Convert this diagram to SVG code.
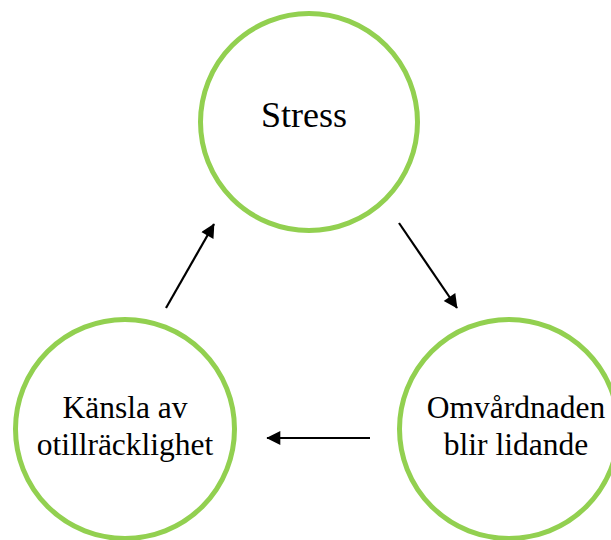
<svg xmlns="http://www.w3.org/2000/svg" width="611" height="540" viewBox="0 0 611 540">
<defs>
<style>
.node{fill:#fff;stroke:#92D050;stroke-width:5}
.lbl{font-family:"Liberation Serif","Times New Roman",serif;fill:#000;text-anchor:middle}
.conn{stroke:#000;stroke-width:2.2;fill:none}
</style>
<marker id="ah" viewBox="0 0 10 10" refX="9.5" refY="5" markerWidth="17" markerHeight="14" markerUnits="userSpaceOnUse" orient="auto">
<path d="M0,0 L10,5 L0,10 z" fill="#000"/>
</marker>
</defs>
<rect width="611" height="540" fill="#fff"/>
<g id="stress">
<circle class="node" cx="309" cy="122" r="108.5"/>
<text class="lbl" x="304" y="127" font-size="36">Stress</text>
</g>
<g id="omvardnaden">
<circle class="node" cx="509" cy="429" r="109.5"/>
<text class="lbl" x="516" y="418" font-size="31.5">Omvårdnaden</text>
<text class="lbl" x="516" y="455" font-size="31.5">blir lidande</text>
</g>
<g id="kansla">
<circle class="node" cx="125" cy="429" r="109.5"/>
<text class="lbl" x="125" y="418" font-size="31.5">Känsla av</text>
<text class="lbl" x="125" y="455" font-size="31.5">otillräcklighet</text>
</g>
<g id="connectors">
<line class="conn" x1="399" y1="223" x2="457" y2="308" marker-end="url(#ah)"/>
<line class="conn" x1="370" y1="438" x2="267" y2="438" marker-end="url(#ah)"/>
<line class="conn" x1="166" y1="308" x2="214" y2="224" marker-end="url(#ah)"/>
</g>
</svg>
